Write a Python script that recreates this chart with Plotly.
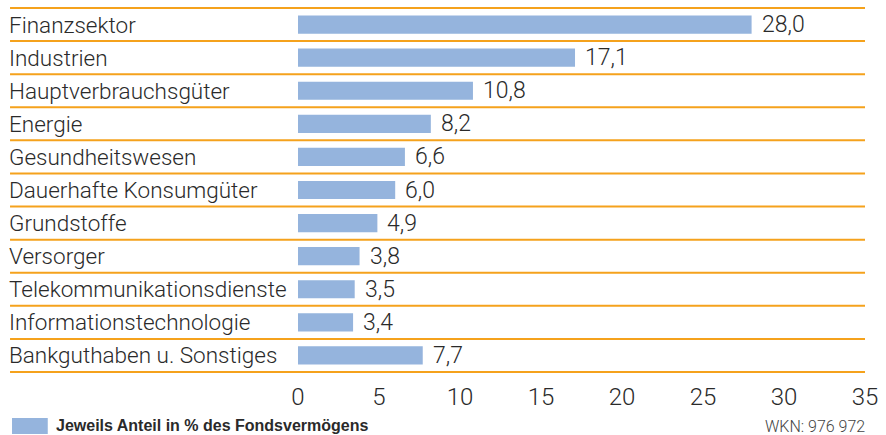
import plotly.graph_objects as go

categories = [
    "Finanzsektor", "Industrien", "Hauptverbrauchsgüter", "Energie",
    "Gesundheitswesen", "Dauerhafte Konsumgüter", "Grundstoffe", "Versorger",
    "Telekommunikationsdienste", "Informationstechnologie", "Bankguthaben u. Sonstiges",
]
values = [28.0, 17.1, 10.8, 8.2, 6.6, 6.0, 4.9, 3.8, 3.5, 3.4, 7.7]
value_labels = ["28,0", "17,1", "10,8", "8,2", "6,6", "6,0", "4,9", "3,8", "3,5", "3,4", "7,7"]
x_ticks = [0, 5, 10, 15, 20, 25, 30, 35]
legend_text = "Jeweils Anteil in % des Fondsvermögens"
wkn_text = "WKN: 976 972"

W, H = 886, 435
L, R, T, B = 298, 17, 8, 63
pw = W - L - R
ph = H - T - B

def px_x(px):
    return (px - L) / pw

def px_y(py):
    return (H - B - py) / ph

BAR = "#95b4dd"
ORANGE = "#f5a21c"
TXT = "#2a2a2a"
FONT = "Roboto"

fig = go.Figure(go.Bar(
    x=values, y=categories, orientation="h",
    marker=dict(color=BAR, line=dict(width=0)),
    width=0.55, hoverinfo="skip",
))

n = len(categories)
shapes = []
for i in range(n + 1):
    yp = 1 - i / n
    shapes.append(dict(type="line", xref="paper", yref="paper",
                       x0=px_x(8), x1=1.0, y0=yp, y1=yp,
                       line=dict(color=ORANGE, width=2)))
shapes.append(dict(type="rect", xref="paper", yref="paper",
                   x0=px_x(10), x1=px_x(46), y0=px_y(434), y1=px_y(418),
                   fillcolor=BAR, line=dict(width=0)))

annotations = []
for c in categories:
    annotations.append(dict(x=px_x(5), y=c, xref="paper", yref="y", text=c,
                            showarrow=False, xanchor="left", yanchor="middle",
                            font=dict(family=FONT, size=22.5, color=TXT, weight=300)))
for c, v, t in zip(categories, values, value_labels):
    annotations.append(dict(x=v, y=c, xref="x", yref="y", text=t,
                            showarrow=False, xanchor="left", yanchor="middle", xshift=8,
                            font=dict(family=FONT, size=23, color=TXT, weight=300)))
annotations.append(dict(x=px_x(52), y=px_y(426), xref="paper", yref="paper",
                        text="<b>" + legend_text + "</b>", showarrow=False,
                        xanchor="left", yanchor="middle",
                        font=dict(family="Liberation Sans", size=16, color=TXT)))
annotations.append(dict(x=px_x(871), y=px_y(427), xref="paper", yref="paper",
                        text=wkn_text, showarrow=False,
                        xanchor="right", yanchor="middle",
                        font=dict(family=FONT, size=16, color="#444444", weight=300)))

fig.update_layout(
    width=W, height=H,
    margin=dict(l=L, r=R, t=T, b=B, pad=0),
    paper_bgcolor="white", plot_bgcolor="white",
    showlegend=False,
    shapes=shapes, annotations=annotations,
    xaxis=dict(range=[0, 35], tickvals=x_ticks, showgrid=False, zeroline=False,
               showline=False, ticks="", ticklabelstandoff=8,
               tickfont=dict(family=FONT, size=24, color=TXT, weight=300)),
    yaxis=dict(range=[n - 0.5, -0.5], showticklabels=False,
               showgrid=False, zeroline=False, showline=False, ticks=""),
)

fig.write_html("out.html", config={"displayModeBar": False},
               post_script="document.body.style.margin='0';document.body.style.overflow='hidden';")
